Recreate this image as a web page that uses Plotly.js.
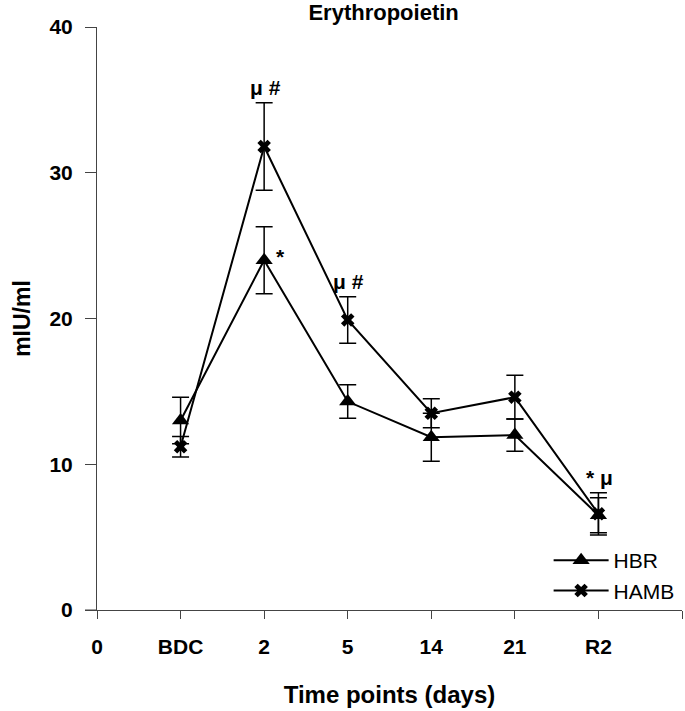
<!DOCTYPE html>
<html>
<head>
<meta charset="utf-8">
<script src="https://cdn.plot.ly/plotly-3.0.1.min.js"></script>
<style>html,body{margin:0;padding:0;background:#fff;}#chart{width:685px;height:711px;}</style>
</head>
<body>
<div id="chart"></div>
<script>
// Tick labels of the x axis (the last, blank one closes the axis)
const tickLabels = ['0', 'BDC', '2', '5', '14', '21', 'R2', ''];
// Categories that carry data
const categories = ['BDC', '2', '5', '14', '21', 'R2'];
// HBR series (mean, error)
const hbr = [13.0, 24.0, 14.3, 11.85, 12.0, 6.5];
const hbrErr = [1.6, 2.3, 1.15, 1.65, 1.1, 1.2];
// HAMB series (mean, error)
const hamb = [11.2, 31.8, 19.9, 13.5, 14.6, 6.6];
const hambErr = [0.7, 3.0, 1.6, 1.0, 1.5, 1.45];
// Significance marks: [category, series, text]
const markCats = ['2', '2', '5', 'R2'];
const markSeries = ['HAMB', 'HBR', 'HAMB', 'HAMB'];
const markText = ['μ #', '*', 'μ #', '* μ'];

const xs = categories.map(c => tickLabels.indexOf(c));
const tickVals = tickLabels.map((t, i) => i);

const F = 'Liberation Sans, Arial, sans-serif';

const traces = [
  {
    x: xs, y: hbr, name: 'HBR', type: 'scatter', mode: 'lines+markers',
    line: {color: '#000', width: 2},
    marker: {symbol: 'triangle-up', size: 15, color: '#000'},
    error_y: {type: 'data', array: hbrErr, visible: true, color: '#000', thickness: 1.5, width: 8.5}
  },
  {
    x: xs, y: hamb, name: 'HAMB', type: 'scatter', mode: 'lines+markers',
    line: {color: '#000', width: 2},
    marker: {symbol: 'x', size: 12, color: '#000'},
    error_y: {type: 'data', array: hambErr, visible: true, color: '#000', thickness: 1.5, width: 8.5}
  }
];

const annotations = markCats.map((c, k) => {
  const i = categories.indexOf(c);
  const isH = markSeries[k] === 'HAMB';
  const v = isH ? hamb[i] + hambErr[i] : hbr[i];
  const side = !isH;
  return {
    x: xs[i], y: v, xref: 'x', yref: 'y', text: markText[k], showarrow: false,
    xanchor: side ? 'left' : 'center', yanchor: side ? 'middle' : 'bottom',
    xshift: side ? 10 : 1, yshift: side ? 4 : 2,
    font: {family: F, size: 21, color: '#000', weight: 'bold'}
  };
});

const layout = {
  width: 685, height: 711,
  margin: {l: 97, r: 3, t: 27, b: 101},
  paper_bgcolor: '#fff', plot_bgcolor: '#fff',
  showlegend: true,
  title: {text: 'Erythropoietin', font: {family: F, size: 22, color: '#000', weight: 'bold'}, x: 0.56, xanchor: 'center', y: 0.993, yanchor: 'top'},
  xaxis: {
    range: [0, 7], tickmode: 'array', tickvals: tickVals, ticktext: tickLabels,
    showgrid: false, zeroline: false, showline: true, linecolor: '#444', linewidth: 1,
    ticks: 'outside', ticklen: 8, tickcolor: '#444', tickwidth: 1, ticklabelstandoff: 10,
    tickfont: {family: F, size: 21, color: '#000', weight: 'bold'},
    title: {text: 'Time points (days)', font: {family: F, size: 24, color: '#000', weight: 'bold'}, standoff: 28}
  },
  yaxis: {
    range: [0, 40], tickvals: [0, 10, 20, 30, 40],
    showgrid: false, zeroline: false, showline: true, linecolor: '#444', linewidth: 1,
    ticks: 'outside', ticklen: 11, tickcolor: '#444', tickwidth: 1, ticklabelstandoff: 8,
    tickfont: {family: F, size: 21, color: '#000', weight: 'bold'},
    title: {text: 'mIU/ml', font: {family: F, size: 23, color: '#000', weight: 'bold'}, standoff: 12}
  },
  legend: {
    x: 0.772, xanchor: 'left', y: 0.12, yanchor: 'top', itemwidth: 55,
    font: {family: F, size: 21, color: '#000'}, bgcolor: 'rgba(0,0,0,0)', tracegroupgap: 0
  },
  shapes: [
    {type: 'line', xref: 'paper', yref: 'y', x0: -12 / 585, x1: 0, y0: 0, y1: 0, line: {color: '#444', width: 1}}
  ],
  annotations: annotations
};

Plotly.newPlot('chart', traces, layout, {displayModeBar: false, staticPlot: true});
</script>
</body>
</html>
